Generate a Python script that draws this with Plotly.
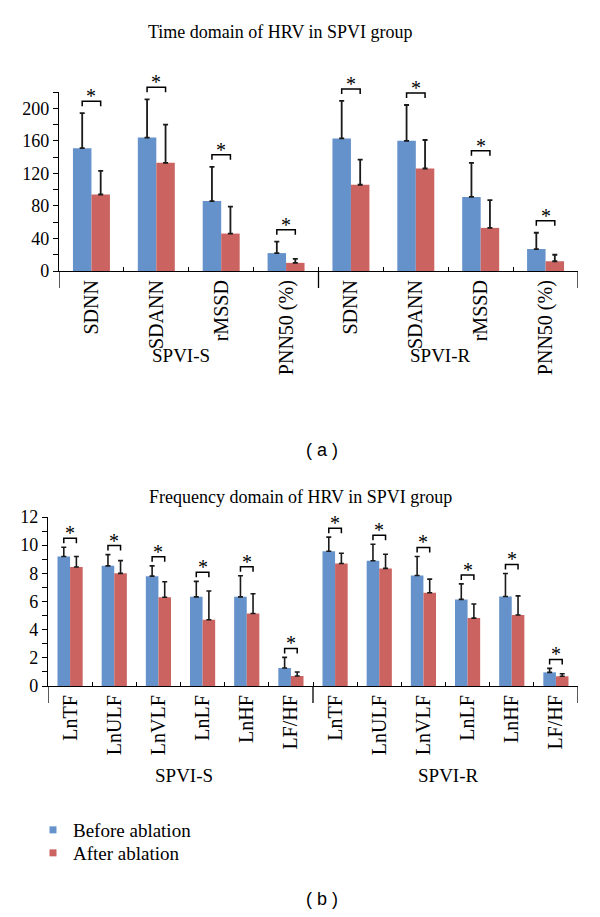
import plotly.graph_objects as go

# ---------------- data ----------------
groups = ["SPVI-S", "SPVI-R"]

time_metrics = ["SDNN", "SDANN", "rMSSD", "PNN50 (%)"]
time_before = [151, 164, 86, 22, 163, 160, 91, 27]
time_before_sd = [43, 47, 42, 14, 46, 44, 42, 20]
time_after = [94, 133, 46, 10, 106, 126, 53, 12]
time_after_sd = [29, 47, 33, 5, 31, 35, 34, 8]

freq_metrics = ["LnTF", "LnULF", "LnVLF", "LnLF", "LnHF", "LF/HF"]
freq_before = [9.2, 8.53, 7.8, 6.33, 6.33, 1.28, 9.57, 8.89, 7.85, 6.15, 6.36, 0.97]
freq_before_sd = [0.65, 0.8, 0.73, 1.1, 1.5, 0.75, 1.0, 1.18, 1.35, 1.1, 1.63, 0.28]
freq_after = [8.45, 8.0, 6.3, 4.7, 5.15, 0.71, 8.7, 8.35, 6.62, 4.82, 5.04, 0.69]
freq_after_sd = [0.75, 0.9, 1.1, 2.05, 1.4, 0.28, 0.73, 1.0, 0.97, 1.0, 1.36, 0.18]

series_names = ["Before ablation", "After ablation"]

# ---------------- style ----------------
PAGE_OFF = 8            # default body margin of the html page
W, H = 600 - PAGE_OFF, 917 - PAGE_OFF
BLUE = "#6592CA"
RED = "#CB6461"
SERIF = "Liberation Serif"
SANS = "Liberation Sans"
BARGAP = 0.43


def py(px):
    return 1 - (px - PAGE_OFF) / H


def px_x(px):
    return (px - PAGE_OFF) / W


fig = go.Figure()

panels = [
    dict(xa="x", ya="y", metrics=time_metrics, vals=(time_before, time_after),
         sds=(time_before_sd, time_after_sd), xdom=(59, 578), ydom=(92, 271),
         yrange=[0, 220], dtick=40, minor=20, brk=12, err_th=1.8, grp_shift=-84, grp_xshift=-8,
         title="Time domain of HRV in SPVI group", title_pos=(280, 32),
         tag="( a )", tag_pos=(322, 450)),
    dict(xa="x2", ya="y2", metrics=freq_metrics, vals=(freq_before, freq_after),
         sds=(freq_before_sd, freq_after_sd), xdom=(48, 578), ydom=(517, 686),
         yrange=[0, 12], dtick=2, minor=1, brk=9, err_th=1.6, grp_shift=-89, grp_xshift=3,
         title="Frequency domain of HRV in SPVI group", title_pos=(300, 497),
         tag="( b )", tag_pos=(322, 899)),
]

shapes = []
annotations = []
layout_axes = {}

for p in panels:
    labels = p["metrics"] * len(groups)
    n = len(labels)
    xs = list(range(n))
    ymax = p["yrange"][1]
    ydom_ref = p["ya"] + " domain"
    for s_i, (vals, sds, col) in enumerate(zip(p["vals"], p["sds"], (BLUE, RED))):
        fig.add_trace(go.Bar(
            x=xs, y=vals, name=series_names[s_i], marker=dict(color=col, line=dict(width=0)),
            error_y=dict(type="data", symmetric=False, array=sds, arrayminus=[0] * n,
                         color="#1a1a1a", thickness=p["err_th"], width=2.5),
            xaxis=p["xa"], yaxis=p["ya"], showlegend=False,
        ))

    xkey = "xaxis" if p["xa"] == "x" else "xaxis2"
    ykey = "yaxis" if p["ya"] == "y" else "yaxis2"
    layout_axes[xkey] = dict(
        domain=[px_x(p["xdom"][0]), px_x(p["xdom"][1])], anchor=p["ya"],
        range=[-0.5, n - 0.5], showgrid=False, zeroline=False,
        showline=True, linecolor="black", linewidth=1.3,
        tickmode="array", tickvals=xs, ticktext=labels, ticks="",
        tickangle=-90, tickfont=dict(family=SERIF, size=20, color="black"),
        minor=dict(tickvals=[i + 0.5 for i in xs[:-1]], ticks="inside", ticklen=4,
                   tickcolor="black", tickwidth=1),
        automargin=False, fixedrange=True,
    )
    layout_axes[ykey] = dict(
        domain=[py(p["ydom"][1]), py(p["ydom"][0])], anchor=p["xa"],
        range=p["yrange"], showgrid=False, zeroline=False,
        showline=True, linecolor="black", linewidth=1.3,
        tickmode="linear", tick0=0, dtick=p["dtick"], ticks="outside", ticklen=5,
        tickcolor="black", tickwidth=1.2,
        minor=dict(dtick=p["minor"], tick0=0, ticks="outside", ticklen=5, tickcolor="black",
                   tickwidth=1.2),
        tickfont=dict(family=SERIF, size=18, color="black"),
        automargin=False, fixedrange=True,
    )

    # group separator long ticks
    per = len(p["metrics"])
    for b in [g * per - 0.5 for g in range(len(groups) + 1)]:
        shapes.append(dict(type="line", xref=p["xa"], yref=ydom_ref, x0=b, x1=b,
                           ysizemode="pixel", yanchor=0, y0=0, y1=-17,
                           line=dict(color="black", width=1.3)))
    # group labels
    for g_i, g in enumerate(groups):
        annotations.append(dict(text=g, x=g_i * per + (per - 1) / 2, y=0, xref=p["xa"], yref=p["ya"],
                                yshift=p["grp_shift"], xshift=p["grp_xshift"], showarrow=False,
                                yanchor="middle", font=dict(family=SERIF, size=19, color="black")))
    # significance brackets
    half = (1 - BARGAP) / 4
    b_vals, a_vals = p["vals"]
    b_sds, a_sds = p["sds"]
    for i in xs:
        top = max(b_vals[i] + b_sds[i], a_vals[i] + a_sds[i])
        d = p["brk"]
        path = f"M {i - half},{d - 5} L {i - half},{d} L {i + half},{d} L {i + half},{d - 5}"
        shapes.append(dict(type="path", xref=p["xa"], yref=ydom_ref, ysizemode="pixel",
                           yanchor=top / ymax, path=path, line=dict(color="black", width=1.5)))
        annotations.append(dict(text="*", x=i, y=top, xref=p["xa"], yref=p["ya"],
                                yshift=d + 5, showarrow=False, yanchor="middle",
                                font=dict(family=SERIF, size=20, color="black")))
    # title and tag
    annotations.append(dict(text=p["title"], x=px_x(p["title_pos"][0]), y=py(p["title_pos"][1]),
                            xref="paper", yref="paper", showarrow=False, yanchor="middle",
                            font=dict(family=SERIF, size=18, color="black")))
    annotations.append(dict(text=p["tag"], x=px_x(p["tag_pos"][0]), y=py(p["tag_pos"][1]),
                            xref="paper", yref="paper", showarrow=False, yanchor="middle",
                            font=dict(family=SANS, size=18, color="black")))

# legend entries (one legend box per entry so the spacing can match)
legend_names = ["legend", "legend2"]
legend_rows = [830, 853]
for name, col, lg in zip(series_names, (BLUE, RED), legend_names):
    fig.add_trace(go.Scatter(x=[None], y=[None], mode="markers", name=name,
                             marker=dict(symbol="square", size=7, color=col),
                             xaxis="x2", yaxis="y2", showlegend=True, legend=lg))

legend_style = dict(xanchor="left", yanchor="middle", bgcolor="rgba(0,0,0,0)",
                    font=dict(family=SERIF, size=19, color="black"), borderwidth=0)

fig.update_layout(
    width=W, height=H, template="none",
    margin=dict(l=0, r=0, t=0, b=0),
    paper_bgcolor="white", plot_bgcolor="white",
    barmode="group", bargap=BARGAP, bargroupgap=0,
    shapes=shapes, annotations=annotations,
    legend=dict(x=px_x(33), y=py(legend_rows[0]), **legend_style),
    legend2=dict(x=px_x(33), y=py(legend_rows[1]), **legend_style),
    **layout_axes,
)

fig.write_html("out.html")
